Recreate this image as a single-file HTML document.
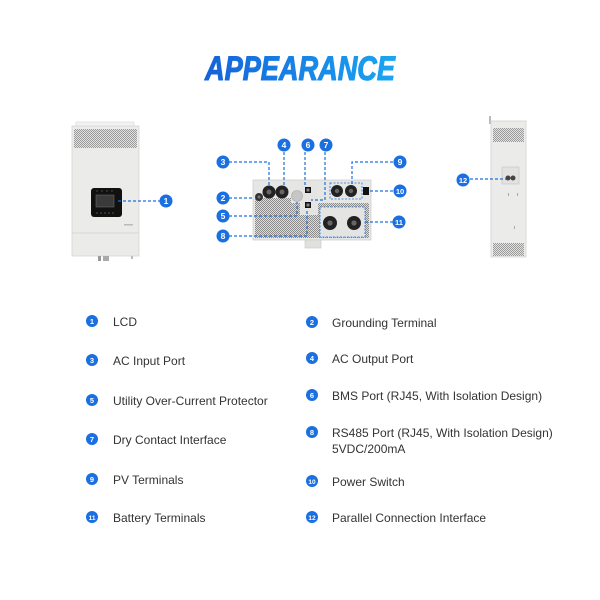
<!DOCTYPE html>
<html><head><meta charset="utf-8"><style>
html,body{margin:0;padding:0;background:#fff;}
svg{display:block;}
</style></head><body>
<svg width="600" height="600" viewBox="0 0 600 600" xmlns="http://www.w3.org/2000/svg">
<defs>
<linearGradient id="tg" x1="0" y1="0" x2="1" y2="0">
<stop offset="0" stop-color="#1562da"/><stop offset="1" stop-color="#1aa6f2"/>
</linearGradient>
<pattern id="mesh" width="2" height="2" patternUnits="userSpaceOnUse">
<rect width="2" height="2" fill="#dcdcdc"/><rect width="1" height="1" fill="#8c8c8c"/><rect x="1" y="1" width="1" height="1" fill="#8c8c8c"/>
</pattern>
<pattern id="mesh2" width="2" height="2" patternUnits="userSpaceOnUse">
<rect width="2" height="2" fill="#e2e2e2"/><rect width="1" height="1" fill="#9a9a9a"/><rect x="1" y="1" width="1" height="1" fill="#9a9a9a"/>
</pattern>
</defs>

<!-- Title -->
<text x="205" y="80" font-family="Liberation Sans, sans-serif" font-size="34" font-weight="bold" font-style="italic" fill="url(#tg)" stroke="url(#tg)" stroke-width="1.1" stroke-linejoin="round" textLength="190" lengthAdjust="spacingAndGlyphs">APPEARANCE</text>

<!-- LEFT DEVICE -->
<rect x="76" y="122" width="58" height="5" fill="#f2f2f2" stroke="#d6d6d6" stroke-width="0.6"/>
<rect x="72" y="126" width="67" height="130" fill="#ebebe9" stroke="#d6d6d4" stroke-width="0.8"/>
<rect x="74" y="129" width="63" height="19" fill="url(#mesh2)"/>
<line x1="72" y1="233" x2="139" y2="233" stroke="#d0d0ce" stroke-width="0.8"/>
<rect x="91" y="188" width="31" height="29" rx="3" fill="#111"/>
<rect x="96" y="195" width="18" height="12" fill="#3a3a3a" stroke="#666" stroke-width="0.6"/>
<g fill="#555"><circle cx="97" cy="191" r="0.7"/><circle cx="102" cy="191" r="0.7"/><circle cx="107" cy="191" r="0.7"/><circle cx="112" cy="191" r="0.7"/>
<circle cx="97" cy="213" r="0.8"/><circle cx="101" cy="213" r="0.8"/><circle cx="105" cy="213" r="0.8"/><circle cx="109" cy="213" r="0.8"/><circle cx="113" cy="213" r="0.8"/></g>
<rect x="124" y="224" width="9" height="1.5" fill="#bbb"/>
<rect x="98" y="256" width="3" height="5" fill="#999"/>
<rect x="103" y="256" width="6" height="5" fill="#aaa"/>
<rect x="131" y="256" width="2" height="3" fill="#bbb"/>
<line x1="118" y1="201" x2="160" y2="201" stroke="#1a70e0" stroke-width="1.2" stroke-dasharray="3,2"/>

<!-- MIDDLE DEVICE -->
<rect x="253" y="180" width="118" height="60" fill="#e6e6e4" stroke="#cfcfcd" stroke-width="0.8"/>
<rect x="255" y="203" width="114" height="35" fill="url(#mesh)"/>
<rect x="255" y="198" width="36" height="6" fill="url(#mesh)"/>
<rect x="300" y="182" width="18" height="33" fill="#e4e4e2"/>
<rect x="320" y="207" width="45" height="30" fill="#e4e4e2" stroke="#1a70e0" stroke-width="0.8" stroke-dasharray="2,1.5"/>
<rect x="330" y="183" width="32" height="16" fill="none" stroke="#1a70e0" stroke-width="0.8" stroke-dasharray="2,1.5"/>
<rect x="305" y="240" width="16" height="8" fill="#e0e0de" stroke="#c8c8c6" stroke-width="0.6"/>
<!-- terminals -->
<circle cx="259" cy="197" r="4" fill="#333"/><circle cx="259" cy="197" r="1.5" fill="#777"/>
<circle cx="269" cy="192" r="6.5" fill="#222"/><circle cx="269" cy="192" r="2.5" fill="#666"/>
<circle cx="282" cy="192" r="6.5" fill="#222"/><circle cx="282" cy="192" r="2.5" fill="#666"/>
<circle cx="297" cy="196" r="5.5" fill="#c6c6c6" stroke="#aaa" stroke-width="0.6"/>
<rect x="305" y="187" width="6" height="6" fill="#111"/><rect x="306.5" y="188.5" width="3" height="3" fill="#888"/>
<rect x="305" y="202" width="6" height="6" fill="#111"/><rect x="306.5" y="203.5" width="3" height="3" fill="#888"/>
<circle cx="337" cy="191" r="6" fill="#222"/><circle cx="337" cy="191" r="2.2" fill="#666"/>
<circle cx="351" cy="191" r="6" fill="#222"/><circle cx="351" cy="191" r="2.2" fill="#666"/>
<rect x="363" y="187" width="6" height="8" fill="#111"/>
<circle cx="330" cy="223" r="7" fill="#222"/><circle cx="330" cy="223" r="2.6" fill="#666"/>
<circle cx="354" cy="223" r="7" fill="#222"/><circle cx="354" cy="223" r="2.6" fill="#666"/>
<!-- leader lines -->
<g fill="none" stroke="#1a70e0" stroke-width="1.2" stroke-dasharray="3,2">
<polyline points="229,162 269,162 269,185"/>
<polyline points="284,152 284,185"/>
<polyline points="305,152 305,187"/>
<polyline points="325,152 325,200 311,200"/>
<polyline points="393,162 352,162 352,184"/>
<polyline points="229,198 254,198"/>
<polyline points="370,191 393,191"/>
<polyline points="229,216 297,216 297,202"/>
<polyline points="365,222 393,222"/>
<polyline points="229,236 307,236 307,209"/>
</g>

<!-- RIGHT DEVICE -->
<rect x="489" y="116" width="2" height="8" fill="#bbb"/>
<rect x="491" y="121" width="35" height="136" fill="#ebebe9" stroke="#d2d2d0" stroke-width="0.8"/>
<rect x="493" y="128" width="31" height="14" fill="url(#mesh2)"/>
<rect x="493" y="243" width="31" height="13" fill="url(#mesh2)"/>
<rect x="502" y="167" width="17" height="17" fill="#e2e2e0" stroke="#c4c4c2" stroke-width="0.6"/>
<circle cx="508" cy="178" r="2.5" fill="#444"/><circle cx="513" cy="178" r="2.5" fill="#444"/>
<g fill="#aaa"><rect x="508" y="193" width="1" height="3"/><rect x="517" y="193" width="1" height="3"/><rect x="514" y="226" width="1" height="3"/></g>
<line x1="470" y1="179" x2="506" y2="179" stroke="#1a70e0" stroke-width="1.2" stroke-dasharray="3,2"/>

<!-- DIAGRAM BADGES -->
<g font-family="Liberation Sans, sans-serif" font-weight="bold" font-size="8.5" fill="#fff" text-anchor="middle">
<circle cx="166" cy="201" r="6.5" fill="#1a70e0"/><text x="166" y="204">1</text>
<circle cx="223" cy="162" r="6.5" fill="#1a70e0"/><text x="223" y="165">3</text>
<circle cx="284" cy="145" r="6.5" fill="#1a70e0"/><text x="284" y="148">4</text>
<circle cx="308" cy="145" r="6.5" fill="#1a70e0"/><text x="308" y="148">6</text>
<circle cx="326" cy="145" r="6.5" fill="#1a70e0"/><text x="326" y="148">7</text>
<circle cx="400" cy="162" r="6.5" fill="#1a70e0"/><text x="400" y="165">9</text>
<circle cx="223" cy="198" r="6.5" fill="#1a70e0"/><text x="223" y="201">2</text>
<circle cx="400" cy="191" r="6.5" fill="#1a70e0"/><text x="400" y="194" font-size="7.5">10</text>
<circle cx="223" cy="216" r="6.5" fill="#1a70e0"/><text x="223" y="219">5</text>
<circle cx="399" cy="222" r="6.5" fill="#1a70e0"/><text x="399" y="225" font-size="7.5">11</text>
<circle cx="223" cy="236" r="6.5" fill="#1a70e0"/><text x="223" y="239">8</text>
<circle cx="463" cy="180" r="6.5" fill="#1a70e0"/><text x="463" y="183" font-size="7.5">12</text>
</g>

<!-- LIST BADGES -->
<g font-family="Liberation Sans, sans-serif" font-weight="bold" font-size="7.5" fill="#fff" text-anchor="middle">
<circle cx="92" cy="321" r="6" fill="#1a70e0"/><text x="92" y="323.8">1</text>
<circle cx="92" cy="360" r="6" fill="#1a70e0"/><text x="92" y="362.8">3</text>
<circle cx="92" cy="400" r="6" fill="#1a70e0"/><text x="92" y="402.8">5</text>
<circle cx="92" cy="439" r="6" fill="#1a70e0"/><text x="92" y="441.8">7</text>
<circle cx="92" cy="479" r="6" fill="#1a70e0"/><text x="92" y="481.8">9</text>
<circle cx="92" cy="517" r="6" fill="#1a70e0"/><text x="92" y="519.8" font-size="6.5">11</text>
<circle cx="312" cy="322" r="6" fill="#1a70e0"/><text x="312" y="324.8">2</text>
<circle cx="312" cy="358" r="6" fill="#1a70e0"/><text x="312" y="360.8">4</text>
<circle cx="312" cy="395" r="6" fill="#1a70e0"/><text x="312" y="397.8">6</text>
<circle cx="312" cy="432" r="6" fill="#1a70e0"/><text x="312" y="434.8">8</text>
<circle cx="312" cy="481" r="6" fill="#1a70e0"/><text x="312" y="483.8" font-size="6.5">10</text>
<circle cx="312" cy="517" r="6" fill="#1a70e0"/><text x="312" y="519.8" font-size="6.5">12</text>
</g>

<!-- LIST TEXT -->
<g font-family="Liberation Sans, sans-serif" font-size="12" fill="#333">
<text x="113" y="326">LCD</text>
<text x="113" y="365">AC Input Port</text>
<text x="113" y="405">Utility Over-Current Protector</text>
<text x="113" y="444">Dry Contact Interface</text>
<text x="113" y="484">PV Terminals</text>
<text x="113" y="522">Battery Terminals</text>
<text x="332" y="327">Grounding Terminal</text>
<text x="332" y="363">AC Output Port</text>
<text x="332" y="400">BMS Port (RJ45, With Isolation Design)</text>
<text x="332" y="437">RS485 Port (RJ45, With Isolation Design)</text>
<text x="332" y="453">5VDC/200mA</text>
<text x="332" y="486">Power Switch</text>
<text x="332" y="522">Parallel Connection Interface</text>
</g>
</svg>
</body></html>
